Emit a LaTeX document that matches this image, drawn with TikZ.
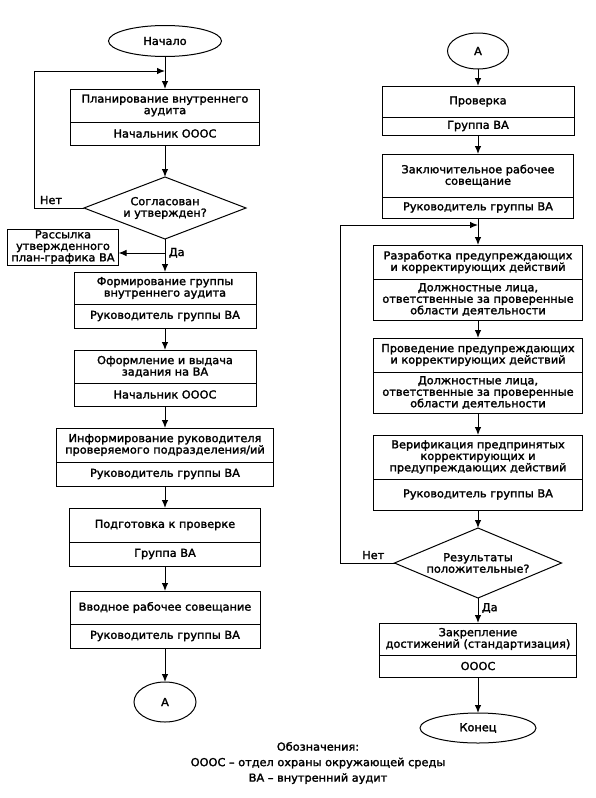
\documentclass[tikz,border=0pt]{standalone}
\usepackage{fontspec}
\setmainfont{DejaVu Sans}[FakeStretch=1.03, FakeBold=2]
\usetikzlibrary{shapes.geometric,positioning,arrows.meta}
\tikzset{
  upper/.style={draw, align=center, anchor=north, outer sep=0pt, inner sep=1pt},
  lower/.style={draw, align=center, outer sep=0pt, inner sep=1pt},
  box/.style={draw, align=center, outer sep=0pt, inner sep=1pt},
  term/.style={ellipse, draw, outer sep=0pt, inner sep=0pt},
  test/.style={diamond, draw, align=center, outer sep=0pt, inner sep=0pt},
  arr/.style={-{Latex[length=8pt,width=6.5pt]}}
}
\begin{document}
\begin{tikzpicture}[x=1pt, y=-1pt, line width=1pt, font=\fontsize{11}{11.5}\selectfont]
\useasboundingbox (0,0) rectangle (596,798);
% left column
\node[term, minimum width=113, minimum height=31] (start) at (165,41) {Начало};
\node[upper, minimum width=189, minimum height=33] (plan) at (165,89) {Планирование внутреннего\\аудита};
\node[lower, minimum width=189, minimum height=23, below=0pt of plan] (planR) {Начальник ОООС};
\node[test, aspect=2.6, minimum width=162, minimum height=62] (agree) at (165,208) {Согласован\\и утвержден?};
\node[box, minimum width=111, minimum height=36] (mail) at (63,247) {Рассылка\\утвержденного\\план-графика ВА};
\node[upper, minimum width=182, minimum height=32] (form) at (165,272) {Формирование группы\\внутреннего аудита};
\node[lower, minimum width=182, minimum height=24, below=0pt of form] (formR) {Руководитель группы ВА};
\node[upper, minimum width=182, minimum height=33] (task) at (165,350) {Оформление и выдача\\задания на ВА};
\node[lower, minimum width=182, minimum height=23, below=0pt of task] (taskR) {Начальник ОООС};
\node[upper, minimum width=217, minimum height=34] (info) at (165,428) {Информирование руководителя\\проверяемого подразделения/ий};
\node[lower, minimum width=217, minimum height=24, below=0pt of info] (infoR) {Руководитель группы ВА};
\node[upper, minimum width=191, minimum height=34] (prep) at (165,508) {Подготовка к проверке};
\node[lower, minimum width=191, minimum height=24, below=0pt of prep] (prepR) {Группа ВА};
\node[upper, minimum width=190, minimum height=33] (intro) at (165,591) {Вводное рабочее совещание};
\node[lower, minimum width=190, minimum height=24, below=0pt of intro] (introR) {Руководитель группы ВА};
\node[term, minimum width=62, minimum height=40] (toA) at (165,702) {А};
\coordinate (join1) at (165,71);
\coordinate (loopA) at (34,71);
\coordinate (fork) at (165,253);
\draw[arr] (start.south) -- (plan.north);
\draw[arr] (planR.south) -- (agree.north);
\draw[arr] (agree.west) -- node[above, pos=0.66] (no1) {Нет} (agree.west -| loopA) -- (loopA) -- (join1);
\draw[arr] (agree.south) -- node[right, pos=0.42] (yes1) {Да} (form.north);
\draw[arr] (fork) -- (fork -| mail.east);
\draw[arr] (formR.south) -- (task.north);
\draw[arr] (taskR.south) -- (info.north);
\draw[arr] (infoR.south) -- (prep.north);
\draw[arr] (prepR.south) -- (intro.north);
\draw[arr] (introR.south) -- (toA.north);
% right column
\node[term, minimum width=61, minimum height=36] (fromA) at (478,51) {А};
\node[upper, minimum width=192, minimum height=31] (check) at (478,86) {Проверка};
\node[lower, minimum width=192, minimum height=18, below=0pt of check] (checkR) {Группа ВА};
\node[upper, minimum width=191, minimum height=43] (final) at (478,154) {Заключительное рабочее\\совещание};
\node[lower, minimum width=191, minimum height=21, below=0pt of final] (finalR) {Руководитель группы ВА};
\node[upper, minimum width=209, minimum height=34] (devel) at (478,245) {Разработка предупреждающих\\и корректирующих действий};
\node[lower, minimum width=209, minimum height=41, below=0pt of devel] (develR) {Должностные лица,\\ответственные за проверенные\\области деятельности};
\node[upper, minimum width=209, minimum height=34] (act) at (478,338) {Проведение предупреждающих\\и корректирующих действий};
\node[lower, minimum width=209, minimum height=41, below=0pt of act] (actR) {Должностные лица,\\ответственные за проверенные\\области деятельности};
\node[upper, minimum width=209, minimum height=44] (verif) at (478,435) {Верификация предпринятых\\корректирующих и\\предупреждающих действий};
\node[lower, minimum width=209, minimum height=31, below=0pt of verif] (verifR) {Руководитель группы ВА};
\node[test, aspect=2.4, minimum width=167, minimum height=70] (result) at (478,563) {Результаты\\положительные?};
\node[upper, minimum width=197, minimum height=32] (fix) at (478,623) {Закрепление\\достижений (стандартизация)};
\node[lower, minimum width=197, minimum height=22, below=0pt of fix] (fixR) {ОООС};
\node[term, minimum width=116, minimum height=30] (stop) at (478,728) {Конец};
\coordinate (join2) at (478,225);
\coordinate (loopB) at (340,225);
\draw[arr] (fromA.south) -- (check.north);
\draw[arr] (checkR.south) -- (final.north);
\draw[arr] (finalR.south) -- (devel.north);
\draw[arr] (develR.south) -- (act.north);
\draw[arr] (actR.south) -- (verif.north);
\draw[arr] (verifR.south) -- (result.north);
\draw[arr] (result.west) -- node[above, pos=0.39] (no2) {Нет} (result.west -| loopB) -- (loopB) -- (join2);
\draw[arr] (result.south) -- node[right, pos=0.4] (yes2) {Да} (fix.north);
\draw[arr] (fixR.south) -- (stop.north);
% legend
\node[align=center, font=\fontsize{11}{15.5}\selectfont] (legend) at (318,763) {Обозначения:\\ОООС – отдел охраны окружающей среды\\ВА – внутренний аудит};
\end{tikzpicture}
\end{document}
